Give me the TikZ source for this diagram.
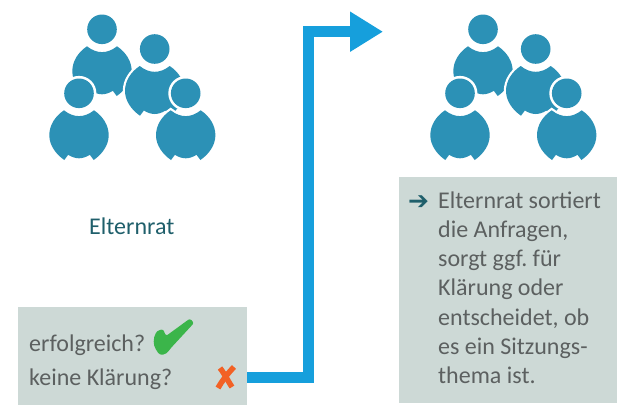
\documentclass[tikz,border=0pt]{standalone}
\usepackage{fontspec}
\setmainfont{Carlito}
\newfontfamily\symfont{DejaVu Sans}
\usetikzlibrary{arrows.meta}
\definecolor{boxbg}{HTML}{CDD9D6}
\definecolor{bodytext}{HTML}{5C6060}
\definecolor{teal}{HTML}{1F5F6B}
\definecolor{person}{HTML}{2C91B6}
\definecolor{flow}{HTML}{169FDC}
\definecolor{okgreen}{HTML}{3BB54A}
\definecolor{nored}{HTML}{F26125}
\tikzset{
  panel/.style={fill=boxbg,draw=none,inner sep=0pt,anchor=north west},
  body text/.style={text=bodytext,font=\fontsize{24}{29.2}\selectfont\frenchspacing,inner sep=0pt},
  pics/member/.style={code={
    \path[fill=person,preaction={draw=white,line width=4.4pt}]
      (-15,17) .. controls (-10,21) and (-5,22.8) .. (0,22.8)
      .. controls (5,22.8) and (10,21) .. (15,17)
      .. controls (24,23) and (29.7,32) .. (29.7,42)
      .. controls (29.7,52) and (23,61) .. (14.7,66.7)
      -- (10.8,61.5)
      .. controls (7,64) and (3,65) .. (0,65)
      .. controls (-3,65) and (-7,64) .. (-10.8,61.5)
      -- (-14.7,66.7)
      .. controls (-23,61) and (-29.7,52) .. (-29.7,42)
      .. controls (-29.7,32) and (-24,23) .. (-15,17) -- cycle;
    \fill[white] (0,0) circle (17.4);
    \fill[person] (0,0) circle (14.8);
  }}
}
\begin{document}
\begin{tikzpicture}[x=1pt,y=-1pt]
\useasboundingbox (0,0) rectangle (618,405);
% left group
\pic at (102,29.3) {member};
\pic at (154.7,49) {member};
\pic at (79,93.3) {member};
\pic at (185.7,93.3) {member};
% right group
\pic at (483,29.3) {member};
\pic at (535.7,49) {member};
\pic at (460,93.3) {member};
\pic at (566.7,93.3) {member};
\node[text=teal,font=\fontsize{24}{28}\selectfont,inner sep=0pt,anchor=base west] (label) at (89,234) {Elternrat};
% boxes
\node[panel,minimum width=229pt,minimum height=98pt] (ask) at (18,307) {};
\node[panel,minimum width=218pt,minimum height=226pt] (info) at (399,177) {};
\node[body text,anchor=base west] (q1) at (29,351) {erfolgreich?};
\node[body text,anchor=base west] (q2) at (29,385) {keine Klärung?};
\node[body text,align=left,anchor=north west] (infotext) at (438,191.5)
  {Elternrat sortiert\\die Anfragen,\\sorgt ggf. für\\Klärung oder\\entscheidet, ob\\es ein Sitzungs-\\thema ist.};
\node[text=teal,font=\symfont\bfseries\fontsize{25}{28}\selectfont,inner sep=0pt] (bullet) at (418.5,203) {➔};
% connector
\coordinate (start) at (ask.east |- 0,377.7);
\coordinate (bend) at (308,31.7);
\coordinate (tip) at (383,31.7);
\draw[flow,line width=11pt,-{Triangle[length=33pt,width=38pt,sep=0pt]}]
  (start) -| (bend) -- (tip);
% check mark
\fill[okgreen,rounded corners=2.2pt] (190,318.5) -- (194,323) -- (170,349) .. controls (166,355) and (160,356) .. (157,351)
  .. controls (153,345) and (153,338) .. (157,331) -- (163,329) -- (166,336) -- cycle;
% cross
\draw[nored,line width=5.5pt] (234,367) .. controls (228,373) and (222,381) .. (218,388);
\draw[nored,line width=5.5pt] (220,368) .. controls (224,373) and (228,381) .. (232,387);
\end{tikzpicture}
\end{document}
